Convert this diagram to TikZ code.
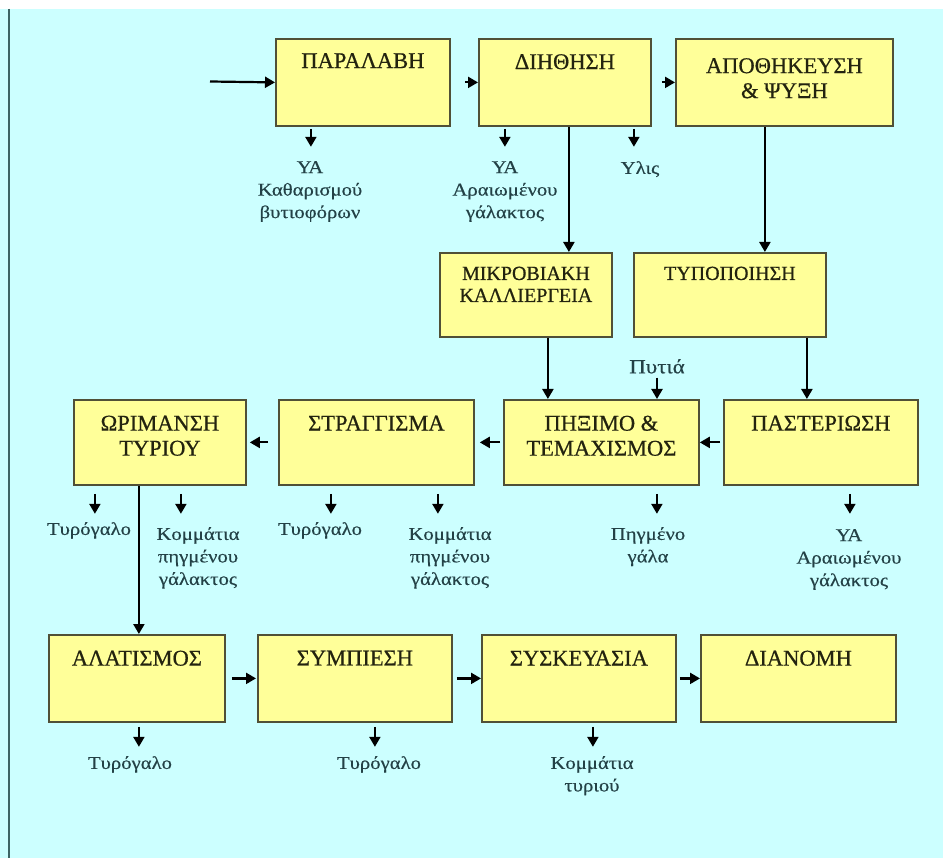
\documentclass[tikz,border=0pt]{standalone}
\usepackage{fontspec}
\setmainfont{Liberation Serif}
\newfontfamily\titlefont[FakeBold=0.6]{Liberation Serif}
\newfontfamily\lblfont[FakeStretch=1.15,FakeBold=0.4]{Liberation Serif}
\usetikzlibrary{arrows.meta}
\definecolor{bgc}{RGB}{204,255,255}
\definecolor{edgec}{RGB}{60,100,100}
\definecolor{boxfill}{RGB}{255,255,153}
\definecolor{boxdraw}{RGB}{80,80,55}
\definecolor{titlec}{RGB}{35,35,15}
\definecolor{lblc}{RGB}{35,65,70}
\tikzset{
  box/.style={draw=boxdraw, fill=boxfill, line width=1.8pt, inner sep=0pt, anchor=north west},
  title/.style={font=\titlefont\fontsize{22.5}{25}\selectfont, text=titlec, align=center, inner sep=0pt, anchor=north},
  titlesm/.style={font=\titlefont\fontsize{20}{22}\selectfont, text=titlec, align=center, inner sep=0pt, anchor=north},
  lbl/.style={font=\lblfont\fontsize{18}{22.5}\selectfont, text=lblc, align=center, inner sep=0pt, anchor=north},
  arr/.style={line width=2.2pt, draw=black, -{Triangle[length=10pt,width=11pt]}},
}
\begin{document}
\begin{tikzpicture}[x=1pt,y=1pt]
\useasboundingbox (0,0) rectangle (943,-858);
\fill[white] (0,0) rectangle (943,-858);
\fill[bgc] (0,-9) rectangle (943,-858);
\draw[edgec, line width=2pt] (9,-9) -- (9,-858);

% row 1
\node[box, minimum width=174pt, minimum height=87pt] (b1) at (275,-38) {};
\node[box, minimum width=172pt, minimum height=87pt] (b2) at (478,-38) {};
\node[box, minimum width=217pt, minimum height=87pt] (b3) at (675,-38) {};
% row 2
\node[box, minimum width=172pt, minimum height=84pt] (b4) at (439,-252) {};
\node[box, minimum width=192pt, minimum height=84pt] (b5) at (633,-252) {};
% row 3
\node[box, minimum width=172pt, minimum height=85pt] (b6) at (73,-399) {};
\node[box, minimum width=195pt, minimum height=85pt] (b7) at (278,-399) {};
\node[box, minimum width=195pt, minimum height=85pt] (b8) at (503,-399) {};
\node[box, minimum width=194pt, minimum height=85pt] (b9) at (723,-399) {};
% row 4
\node[box, minimum width=176pt, minimum height=87pt] (b10) at (48,-634) {};
\node[box, minimum width=194pt, minimum height=87pt] (b11) at (257,-634) {};
\node[box, minimum width=194pt, minimum height=87pt] (b12) at (481,-634) {};
\node[box, minimum width=195pt, minimum height=87pt] (b13) at (700,-634) {};

% titles
\node[title] (t1) at ([yshift=-15]b1.north) {ΠΑΡΑΛΑΒΗ};
\node[title] (t2) at ([yshift=-16]b2.north) {ΔΙΗΘΗΣΗ};
\node[title] (t3) at ([yshift=-20]b3.north) {ΑΠΟΘΗΚΕΥΣΗ\\\& ΨΥΞΗ};
\node[titlesm] (t4) at ([yshift=-14.5]b4.north) {ΜΙΚΡΟΒΙΑΚΗ\\ΚΑΛΛΙΕΡΓΕΙΑ};
\node[titlesm] (t5) at ([yshift=-14.5]b5.north) {ΤΥΠΟΠΟΙΗΣΗ};
\node[title] (t6) at ([yshift=-16.5]b6.north) {ΩΡΙΜΑΝΣΗ\\ΤΥΡΙΟΥ};
\node[title] (t7) at ([yshift=-16.5]b7.north) {ΣΤΡΑΓΓΙΣΜΑ};
\node[title] (t8) at ([yshift=-16.5]b8.north) {ΠΗΞΙΜΟ \&\\ΤΕΜΑΧΙΣΜΟΣ};
\node[title] (t9) at ([yshift=-16.5]b9.north) {ΠΑΣΤΕΡΙΩΣΗ};
\node[title] (t10) at ([yshift=-16.5]b10.north) {ΑΛΑΤΙΣΜΟΣ};
\node[title] (t11) at ([yshift=-16.5]b11.north) {ΣΥΜΠΙΕΣΗ};
\node[title] (t12) at ([yshift=-16.5]b12.north) {ΣΥΣΚΕΥΑΣΙΑ};
\node[title] (t13) at ([yshift=-16.5]b13.north) {ΔΙΑΝΟΜΗ};

% labels
\node[lbl] (l1) at (310,-161) {ΥΑ\\Καθαρισμού\\βυτιοφόρων};
\node[lbl] (l2) at (505,-161) {ΥΑ\\Αραιωμένου\\γάλακτος};
\node[lbl] (l3) at (640,-161) {Υλις};
\node[lbl, font=\lblfont\fontsize{20}{22.5}\selectfont] (pyt) at (657,-359) {Πυτιά};
\node[lbl] (l4) at (89,-522) {Τυρόγαλο};
\node[lbl] (l5) at (198,-527) {Κομμάτια\\πηγμένου\\γάλακτος};
\node[lbl] (l6) at (320,-522) {Τυρόγαλο};
\node[lbl] (l7) at (450,-527) {Κομμάτια\\πηγμένου\\γάλακτος};
\node[lbl] (l8) at (648,-527) {Πηγμένο\\γάλα};
\node[lbl] (l9) at (849,-529) {ΥΑ\\Αραιωμένου\\γάλακτος};
\node[lbl] (l10) at (130,-756) {Τυρόγαλο};
\node[lbl] (l11) at (379,-756) {Τυρόγαλο};
\node[lbl] (l12) at (592,-756) {Κομμάτια\\τυριού};

% main flow
\coordinate (in) at (210,-81.5);
\draw[arr] (in) -- (b1.west);
\draw[arr] ([xshift=14]b1.east) -- (b2.west);
\draw[arr] ([xshift=10]b2.east) -- (b3.west);
\draw[arr] ([xshift=4]b2.south) -- ([xshift=4]b2.south |- b4.north);
\draw[arr] ([xshift=-19.5]b3.south) -- ([xshift=-19.5]b3.south |- b5.north);
\draw[arr] ([xshift=22]b4.south) -- ([xshift=22]b4.south |- b8.north);
\draw[arr] ([xshift=77]b5.south) -- ([xshift=77]b5.south |- b9.north);
\draw[arr] ([yshift=-4]pyt.south) -- (pyt.south |- b8.north);
\draw[arr] ([xshift=-3]b9.west) -- (b8.east);
\draw[arr] ([xshift=-3]b8.west) -- ([xshift=5]b7.east);
\draw[arr] ([xshift=-10]b7.west) -- ([xshift=3]b6.east);
\draw[arr] ([xshift=-21]b6.south) -- ([xshift=-21]b6.south |- b10.north);
\draw[arr] ([xshift=6]b10.east) -- ([xshift=-1]b11.west);
\draw[arr] ([xshift=4]b11.east) -- (b12.west);
\draw[arr] ([xshift=3]b12.east) -- (b13.west);

% by-product stubs
\draw[arr] ([xshift=-52,yshift=-2]b1.south) -- ++(0,-18pt);
\draw[arr] ([xshift=-60,yshift=-2]b2.south) -- ++(0,-18pt);
\draw[arr] ([xshift=69,yshift=-2]b2.south) -- ++(0,-18pt);
\draw[arr] ([xshift=-65,yshift=-8]b6.south) -- ++(0,-20pt);
\draw[arr] ([xshift=21,yshift=-8]b6.south) -- ++(0,-20pt);
\draw[arr] ([xshift=-45.5,yshift=-8]b7.south) -- ++(0,-20pt);
\draw[arr] ([xshift=61.5,yshift=-8]b7.south) -- ++(0,-20pt);
\draw[arr] ([xshift=55.5,yshift=-8]b8.south) -- ++(0,-20pt);
\draw[arr] ([xshift=29,yshift=-8]b9.south) -- ++(0,-20pt);
\draw[arr] ([xshift=2,yshift=-4]b10.south) -- ++(0,-20pt);
\draw[arr] ([xshift=20,yshift=-4]b11.south) -- ++(0,-20pt);
\draw[arr] ([xshift=14,yshift=-4]b12.south) -- ++(0,-20pt);
\end{tikzpicture}
\end{document}
